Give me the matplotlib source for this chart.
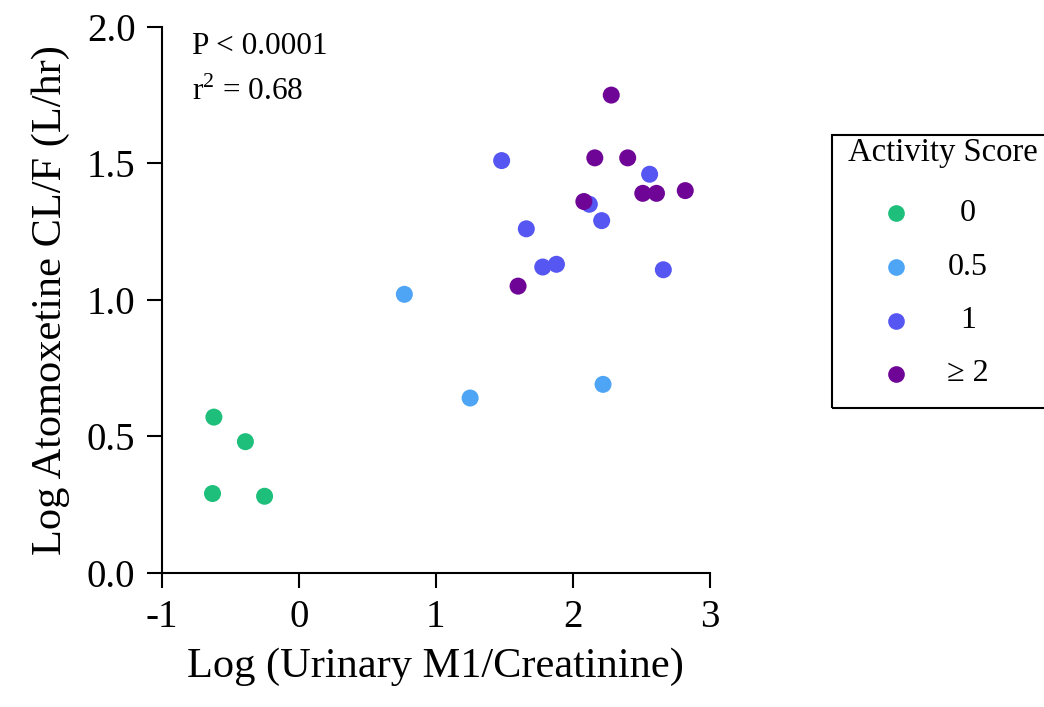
import matplotlib
matplotlib.use('Agg')
import matplotlib.pyplot as plt
from matplotlib.patches import Rectangle
from matplotlib.lines import Line2D

plt.rcParams['font.family'] = ['Liberation Serif', 'DejaVu Serif']
plt.rcParams['mathtext.fontset'] = 'custom'
plt.rcParams['mathtext.rm'] = 'Liberation Serif'

# activity score groups
groups = ['0', '0.5', '1', '\u2265 2']
colors = ['#1dbf7b', '#4ea5f5', '#5656f2', '#6f0596']

# log urinary M1/creatinine (x) and log atomoxetine CL/F (y) per group
x_as0 = [-0.62, -0.39, -0.63, -0.25]
y_as0 = [0.57, 0.48, 0.29, 0.28]

x_as05 = [0.77, 1.25, 2.22]
y_as05 = [1.02, 0.64, 0.69]

x_as1 = [1.48, 1.66, 1.78, 1.88, 2.12, 2.21, 2.56, 2.66]
y_as1 = [1.51, 1.26, 1.12, 1.13, 1.35, 1.29, 1.46, 1.11]

x_as2 = [2.28, 2.16, 2.40, 2.51, 2.61, 2.82, 2.08, 1.60]
y_as2 = [1.75, 1.52, 1.52, 1.39, 1.39, 1.40, 1.36, 1.05]

xs = [x_as0, x_as05, x_as1, x_as2]
ys = [y_as0, y_as05, y_as1, y_as2]

xticks = [-1, 0, 1, 2, 3]
yticks = [0.0, 0.5, 1.0, 1.5, 2.0]

fig = plt.figure(figsize=(10.44, 7.07), dpi=100)
ax = fig.add_axes([0.155, 0.19, 0.525, 0.772])

for xv, yv, c in zip(xs, ys, colors):
    ax.scatter(xv, yv, s=150, color=c, edgecolors='none', zorder=3, clip_on=False)

ax.set_xlim(-1, 3)
ax.set_ylim(0, 2)
ax.set_xticks(xticks)
ax.set_xticklabels([str(t) for t in xticks])
ax.set_yticks(yticks)
ax.set_yticklabels(['%.1f' % t for t in yticks])

for s in ['top', 'right']:
    ax.spines[s].set_visible(False)
for s in ['left', 'bottom']:
    ax.spines[s].set_linewidth(1.5)
ax.tick_params(direction='out', length=11, width=1.5, labelsize=28, pad=8)

ax.set_xlabel('Log (Urinary M1/Creatinine)', fontsize=30.5, labelpad=8)
ax.set_ylabel('Log Atomoxetine CL/F (L/hr)', fontsize=30.5, labelpad=12)

ax.text(0.055, 0.99, 'P < 0.0001', transform=ax.transAxes, fontsize=22.5, va='top')
ax.text(0.055, 0.91, 'r$^2$ = 0.68', transform=ax.transAxes, fontsize=22.5, va='top')

# legend box, runs off the right edge
W, H = 1044.0, 707.0
fig.add_artist(Rectangle((832 / W, 1 - 408 / H), 230 / W, (408 - 135) / H,
                         transform=fig.transFigure, fill=False,
                         edgecolor='black', linewidth=1.5, clip_on=False))
fig.text(848 / W, 1 - 153 / H, 'Activity Score', fontsize=23.5, va='center', ha='left')
rows = [213, 267, 321, 374]
for lab, c, ry in zip(groups, colors, rows):
    fig.add_artist(Line2D([896 / W], [1 - ry / H], marker='o', markersize=12,
                          color=c, markeredgewidth=0, linestyle='none',
                          transform=fig.transFigure))
    fig.text(968 / W, 1 - ry / H, lab, fontsize=23, va='center', ha='center')

fig.savefig('out.png', dpi=100)
